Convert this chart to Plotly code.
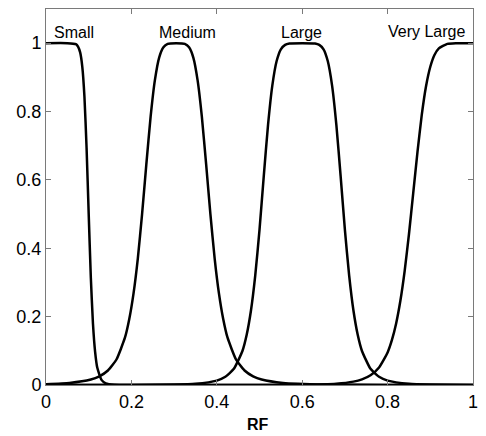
import plotly.graph_objects as go

# Membership function curves
small_x = [0, 0.05, 0.07, 0.075, 0.08, 0.085, 0.09, 0.095, 0.1, 0.105, 0.11, 0.115, 0.12, 0.13, 0.14, 0.16, 0.2, 1.0]
small_y = [1, 1, 0.997, 0.990, 0.973, 0.931, 0.844, 0.694, 0.5, 0.314, 0.179, 0.097, 0.051, 0.015, 0.005, 0.001, 0, 0]

medium_x = [0, 0.055, 0.105, 0.125, 0.145, 0.165, 0.185, 0.195, 0.205, 0.215, 0.225, 0.235, 0.245, 0.255,
            0.265, 0.275, 0.285, 0.305, 0.325, 0.335, 0.345, 0.355, 0.365, 0.375, 0.385, 0.395, 0.405,
            0.415, 0.425, 0.445, 0.465, 0.485, 0.505, 0.555, 0.655, 0.8, 1.0]
medium_y = [0.0024, 0.0059, 0.0159, 0.0254, 0.0424, 0.0746, 0.139, 0.193, 0.268, 0.370, 0.5, 0.646, 0.785, 0.892,
            0.958, 0.988, 0.998, 1, 0.998, 0.988, 0.958, 0.892, 0.785, 0.646, 0.5, 0.370, 0.268,
            0.193, 0.139, 0.0746, 0.0424, 0.0254, 0.0159, 0.0059, 0.0013, 0.0003, 0]

large_x = [0, 0.2, 0.3, 0.35, 0.40, 0.42, 0.44, 0.46, 0.47, 0.48, 0.49, 0.50, 0.51, 0.52, 0.53, 0.54, 0.55,
           0.56, 0.57, 0.6, 0.63, 0.64, 0.65, 0.66, 0.67, 0.68, 0.69, 0.70, 0.71, 0.72, 0.73, 0.74, 0.76,
           0.78, 0.80, 0.85, 0.90, 1.0]
large_y = [0, 0.0002, 0.0011, 0.0034, 0.0129, 0.0239, 0.0473, 0.0996, 0.147, 0.218, 0.320, 0.454, 0.611,
           0.761, 0.876, 0.947, 0.982, 0.995, 0.999, 1, 0.999, 0.995, 0.982, 0.947, 0.876, 0.761, 0.611,
           0.454, 0.320, 0.218, 0.147, 0.0996, 0.0473, 0.0239, 0.0129, 0.0034, 0.0011, 0.0002]

vlarge_x = [0, 0.4, 0.6, 0.68, 0.72, 0.74, 0.76, 0.78, 0.80, 0.81, 0.82, 0.83, 0.84, 0.85, 0.86, 0.87, 0.88,
            0.89, 0.90, 0.91, 0.92, 0.94, 0.96, 1.0]
vlarge_y = [0, 0, 0.0008, 0.0039, 0.0099, 0.0165, 0.0286, 0.0513, 0.0952, 0.131, 0.180, 0.247, 0.334, 0.441,
            0.561, 0.682, 0.790, 0.874, 0.931, 0.966, 0.985, 0.998, 1.0, 1]

labels = ["Small", "Medium", "Large", "Very Large"]
label_x = [0.065, 0.332, 0.599, 0.891]
label_y = [1.031, 1.030, 1.030, 1.034]

tick_vals = [0, 0.2, 0.4, 0.6, 0.8, 1.0]
tick_text = ["0", "0.2", "0.4", "0.6", "0.8", "1"]

fig = go.Figure()
for xs, ys in [(small_x, small_y), (medium_x, medium_y), (large_x, large_y), (vlarge_x, vlarge_y)]:
    fig.add_trace(go.Scatter(x=xs, y=ys, mode="lines",
                             line=dict(color="black", width=2.5, shape="spline", smoothing=0.5),
                             showlegend=False, hoverinfo="skip"))

for t, lx, ly in zip(labels, label_x, label_y):
    fig.add_annotation(x=lx, y=ly, xref="x", yref="y", text=t, showarrow=False,
                       xanchor="center", yanchor="middle",
                       font=dict(family="Liberation Sans, Arial", size=16, color="black"))

fig.add_annotation(x=0.497, y=-0.106, xref="paper", yref="paper", text="<b>RF</b>", showarrow=False,
                   xanchor="center", yanchor="middle",
                   font=dict(family="Liberation Sans, Arial", size=16, color="black"))

axis_common = dict(showgrid=False, zeroline=False, showline=True, linecolor="#7a7a7a", linewidth=1,
                   mirror="ticks", ticks="inside", ticklen=5, tickcolor="#7a7a7a", tickwidth=1,
                   tickfont=dict(family="Liberation Sans, Arial", size=18, color="black"))

fig.update_xaxes(range=[0, 1], tickvals=tick_vals, ticktext=tick_text, **axis_common)
fig.update_yaxes(range=[0, 1.1], tickvals=tick_vals, ticktext=tick_text, **axis_common)

fig.update_layout(width=486, height=436, margin=dict(l=46, r=11, t=8, b=51),
                  plot_bgcolor="white", paper_bgcolor="white")

fig.write_html("out.html")
